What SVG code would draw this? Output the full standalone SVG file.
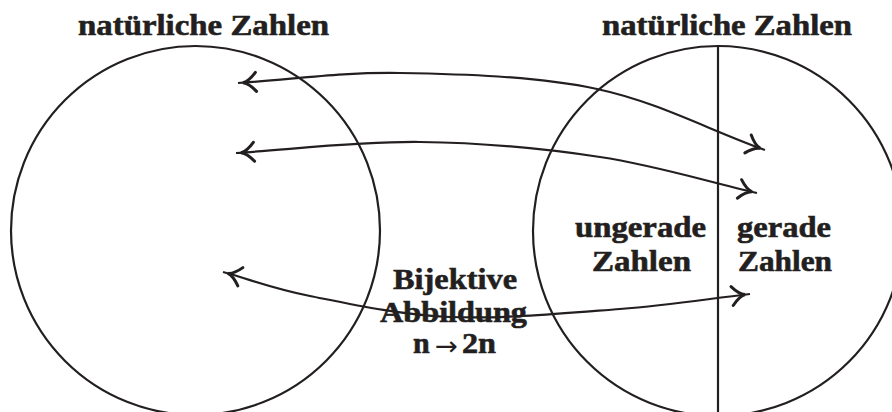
<svg xmlns="http://www.w3.org/2000/svg" width="892" height="412" viewBox="0 0 892 412">
  <style>
    .set { fill: none; stroke: #231f20; stroke-width: 2.2; }
    .split { stroke: #231f20; stroke-width: 2.2; }
    .map { fill: none; stroke: #231f20; stroke-width: 2.2; marker-start: url(#to-start); marker-end: url(#to-end); }
    .lbl { font-family: "Liberation Serif", "Times New Roman", serif; font-weight: bold; font-size: 30px; fill: #231f20; stroke: #231f20; stroke-width: 0.6; }
    .arw { font-family: "DejaVu Sans", sans-serif; font-weight: normal; font-size: 26px; stroke: none; }
  </style>
  <defs>
    <!-- curved "to" style barbs, tip at the origin pointing along +x -->
    <marker id="to-end" markerUnits="userSpaceOnUse" orient="auto" viewBox="-24 -12 28 24" refX="0" refY="0" markerWidth="28" markerHeight="24" overflow="visible">
      <path d="M-18,-9.5 Q-11,-1 -5,0 Q-11,1 -18,9.5" fill="none" stroke="#231f20" stroke-width="3" stroke-linecap="round"/>
    </marker>
    <marker id="to-start" markerUnits="userSpaceOnUse" orient="auto-start-reverse" viewBox="-24 -12 28 24" refX="0" refY="0" markerWidth="28" markerHeight="24" overflow="visible">
      <path d="M-18,-9.5 Q-11,-1 -5,0 Q-11,1 -18,9.5" fill="none" stroke="#231f20" stroke-width="3" stroke-linecap="round"/>
    </marker>
  </defs>

  <rect width="892" height="412" fill="#ffffff"/>

  <!-- left set: all natural numbers -->
  <g id="set-left">
    <circle class="set" cx="195.5" cy="230.5" r="184.5"/>
    <text class="lbl" x="203.5" y="35" text-anchor="middle" textLength="251" lengthAdjust="spacingAndGlyphs">natürliche Zahlen</text>
  </g>

  <!-- right set: natural numbers split into odd and even -->
  <g id="set-right">
    <circle class="set" cx="718" cy="231" r="185"/>
    <line class="split" x1="718" y1="46" x2="718" y2="412"/>
    <text class="lbl" x="727" y="35" text-anchor="middle" textLength="250" lengthAdjust="spacingAndGlyphs">natürliche Zahlen</text>
  </g>

  <g id="odd">
    <text class="lbl" x="640.5" y="237" text-anchor="middle" textLength="131" lengthAdjust="spacingAndGlyphs">ungerade</text>
    <text class="lbl" x="641.5" y="271" text-anchor="middle" textLength="99" lengthAdjust="spacingAndGlyphs">Zahlen</text>
  </g>

  <g id="even">
    <text class="lbl" x="784" y="237" text-anchor="middle" textLength="94" lengthAdjust="spacingAndGlyphs">gerade</text>
    <text class="lbl" x="785" y="271" text-anchor="middle" textLength="94" lengthAdjust="spacingAndGlyphs">Zahlen</text>
  </g>

  <!-- mapping connectors -->
  <g id="connectors">
    <path class="map" d="M238,83 C292,79.7 340,72 400,73 C460,74 536,76 597,89 C658,102 709,130 765,150"/>
    <path class="map" d="M236,153 C296,149 359.3,141.3 420,142 C480.7,142.7 543.8,148.5 600,157 C656.2,165.5 705,181 757,193"/>
    <path class="map" d="M223,272 C252,280 272.2,288.5 310,296 C347.8,303.5 398.3,314.8 450,317 C501.7,319.2 570,312.8 620,309 C670,305.2 706.7,299 750,294"/>
  </g>

  <g id="caption">
    <text class="lbl" x="455" y="289" text-anchor="middle" textLength="124" lengthAdjust="spacingAndGlyphs">Bijektive</text>
    <text class="lbl" x="453.5" y="322" text-anchor="middle" textLength="147" lengthAdjust="spacingAndGlyphs">Abbildung</text>
    <text class="lbl" y="353"><tspan x="413">n</tspan><tspan class="arw" x="435" dy="2" textLength="23" lengthAdjust="spacingAndGlyphs">→</tspan><tspan x="462" dy="-2" textLength="34" lengthAdjust="spacingAndGlyphs">2n</tspan></text>
  </g>
</svg>
